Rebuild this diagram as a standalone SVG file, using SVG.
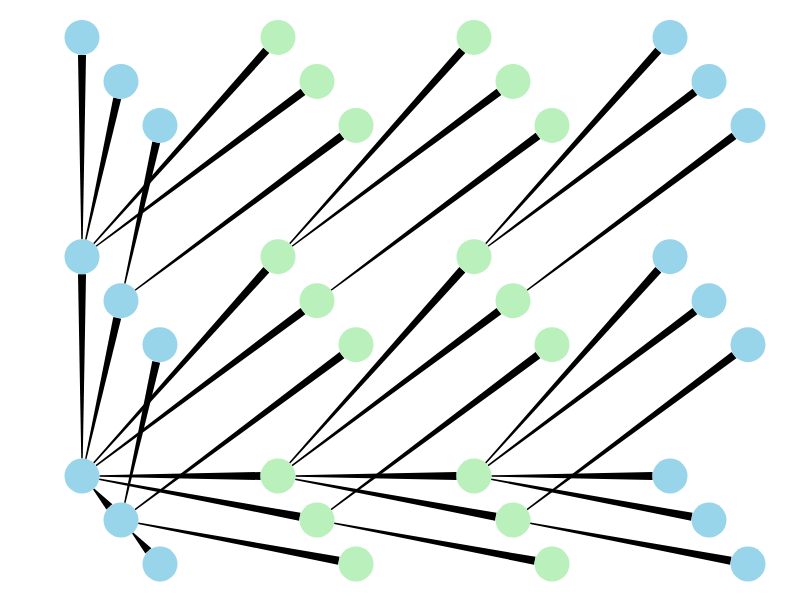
<svg xmlns="http://www.w3.org/2000/svg" xmlns:xlink="http://www.w3.org/1999/xlink" width="800" height="596" viewBox="0 0 800 596">
<style>
.blue{fill:#98d4ea}
.green{fill:#b9f0bc}
.e{fill:#000}
</style>
<defs>
<polygon id="t1" class="e" points="11.05,13.60 24.40,33.55 30.38,28.25 12.17,12.60"/>
<polygon id="t2" class="e" points="0.75,-17.5 4,-201.8 -4,-201.8 -0.75,-17.5"/>
<polygon id="t3" class="e" points="4.53,-16.92 39.10,-157.35 31.30,-159.09 3.07,-17.24"/>
<polygon id="t4" class="e" points="17.5,0.75 178.5,4 178.5,-4 17.5,-0.75"/>
<polygon id="t5" class="e" points="17.06,3.96 217.06,44.71 218.54,36.85 17.34,2.48"/>
<polygon id="t6" class="e" points="12.22,-12.55 187.32,-203.58 181.36,-208.92 11.10,-13.55"/>
<polygon id="t7" class="e" points="14.48,-9.86 223.36,-161.63 218.58,-168.05 13.58,-11.06"/>
</defs>
<rect width="800" height="596" fill="#fff"/>
<g id="connectors">
<use href="#t1" x="82" y="476"/>
<use href="#t2" x="82" y="476"/>
<use href="#t3" x="82" y="476"/>
<use href="#t4" x="82" y="476"/>
<use href="#t5" x="82" y="476"/>
<use href="#t6" x="82" y="476"/>
<use href="#t7" x="82" y="476"/>
<use href="#t1" x="121" y="520"/>
<use href="#t3" x="121" y="520"/>
<use href="#t5" x="121" y="520"/>
<use href="#t7" x="121" y="520"/>
<use href="#t2" x="82" y="256.7"/>
<use href="#t3" x="82" y="256.7"/>
<use href="#t6" x="82" y="256.7"/>
<use href="#t7" x="82" y="256.7"/>
<use href="#t3" x="121" y="300.7"/>
<use href="#t7" x="121" y="300.7"/>
<use href="#t4" x="278" y="476"/>
<use href="#t5" x="278" y="476"/>
<use href="#t6" x="278" y="476"/>
<use href="#t7" x="278" y="476"/>
<use href="#t5" x="317" y="520"/>
<use href="#t7" x="317" y="520"/>
<use href="#t6" x="278" y="256.7"/>
<use href="#t7" x="278" y="256.7"/>
<use href="#t7" x="317" y="300.7"/>
<use href="#t4" x="474" y="476"/>
<use href="#t5" x="474" y="476"/>
<use href="#t6" x="474" y="476"/>
<use href="#t7" x="474" y="476"/>
<use href="#t5" x="513" y="520"/>
<use href="#t7" x="513" y="520"/>
<use href="#t6" x="474" y="256.7"/>
<use href="#t7" x="474" y="256.7"/>
<use href="#t7" x="513" y="300.7"/>
</g>
<g id="n000"><circle class="blue" cx="82" cy="476" r="17.5"/></g>
<g id="n001"><circle class="blue" cx="121" cy="520" r="17.5"/></g>
<g id="n002"><circle class="blue" cx="160" cy="564" r="17.5"/></g>
<g id="n010"><circle class="blue" cx="82" cy="256.7" r="17.5"/></g>
<g id="n011"><circle class="blue" cx="121" cy="300.7" r="17.5"/></g>
<g id="n012"><circle class="blue" cx="160" cy="344.7" r="17.5"/></g>
<g id="n020"><circle class="blue" cx="82" cy="37.4" r="17.5"/></g>
<g id="n021"><circle class="blue" cx="121" cy="81.4" r="17.5"/></g>
<g id="n022"><circle class="blue" cx="160" cy="125.4" r="17.5"/></g>
<g id="n100"><circle class="green" cx="278" cy="476" r="17.5"/></g>
<g id="n101"><circle class="green" cx="317" cy="520" r="17.5"/></g>
<g id="n102"><circle class="green" cx="356" cy="564" r="17.5"/></g>
<g id="n110"><circle class="green" cx="278" cy="256.7" r="17.5"/></g>
<g id="n111"><circle class="green" cx="317" cy="300.7" r="17.5"/></g>
<g id="n112"><circle class="green" cx="356" cy="344.7" r="17.5"/></g>
<g id="n120"><circle class="green" cx="278" cy="37.4" r="17.5"/></g>
<g id="n121"><circle class="green" cx="317" cy="81.4" r="17.5"/></g>
<g id="n122"><circle class="green" cx="356" cy="125.4" r="17.5"/></g>
<g id="n200"><circle class="green" cx="474" cy="476" r="17.5"/></g>
<g id="n201"><circle class="green" cx="513" cy="520" r="17.5"/></g>
<g id="n202"><circle class="green" cx="552" cy="564" r="17.5"/></g>
<g id="n210"><circle class="green" cx="474" cy="256.7" r="17.5"/></g>
<g id="n211"><circle class="green" cx="513" cy="300.7" r="17.5"/></g>
<g id="n212"><circle class="green" cx="552" cy="344.7" r="17.5"/></g>
<g id="n220"><circle class="green" cx="474" cy="37.4" r="17.5"/></g>
<g id="n221"><circle class="green" cx="513" cy="81.4" r="17.5"/></g>
<g id="n222"><circle class="green" cx="552" cy="125.4" r="17.5"/></g>
<g id="n300"><circle class="blue" cx="670" cy="476" r="17.5"/></g>
<g id="n301"><circle class="blue" cx="709" cy="520" r="17.5"/></g>
<g id="n302"><circle class="blue" cx="748" cy="564" r="17.5"/></g>
<g id="n310"><circle class="blue" cx="670" cy="256.7" r="17.5"/></g>
<g id="n311"><circle class="blue" cx="709" cy="300.7" r="17.5"/></g>
<g id="n312"><circle class="blue" cx="748" cy="344.7" r="17.5"/></g>
<g id="n320"><circle class="blue" cx="670" cy="37.4" r="17.5"/></g>
<g id="n321"><circle class="blue" cx="709" cy="81.4" r="17.5"/></g>
<g id="n322"><circle class="blue" cx="748" cy="125.4" r="17.5"/></g>
</svg>
